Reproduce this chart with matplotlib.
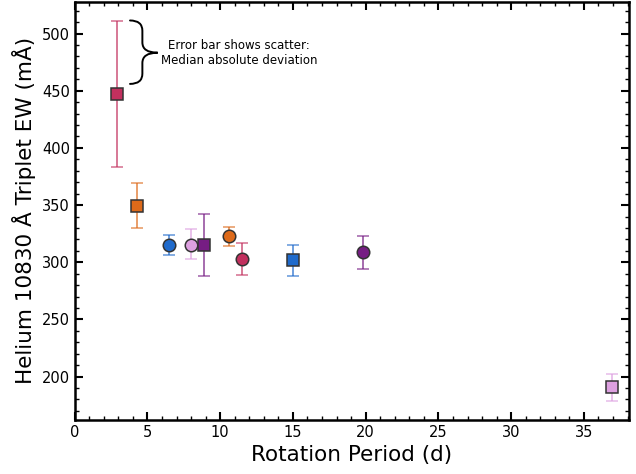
import numpy as np
import matplotlib
matplotlib.use('Agg')
import matplotlib.pyplot as plt
from matplotlib.ticker import MultipleLocator
from matplotlib.path import Path
from matplotlib.patches import PathPatch

# Rotation period (d) and He 10830 triplet EW (mA), with scatter range (MAD)
period = [2.9, 4.3, 6.5, 8.0, 8.9, 10.6, 11.5, 15.0, 19.8, 36.9]
ew = [447, 349, 315, 315, 315, 323, 303, 302, 309, 191]
ew_lo = [383, 330, 306, 303, 288, 314, 289, 288, 294, 179]
ew_hi = [511, 369, 324, 329, 342, 331, 317, 315, 323, 202]

# style per point
markers = ['s', 's', 'o', 'o', 's', 'o', 'o', 's', 'o', 's']
colors = ['#C2305E', '#DD6A1A', '#1F6ACB', '#DDA0E0', '#761D83',
          '#DD6A1A', '#C2305E', '#1F6ACB', '#761D83', '#DDA0E0']

fig = plt.figure(figsize=(6.36, 4.74), dpi=100)
ax = fig.add_axes([0.1175, 0.114, 0.8715, 0.8826])

for i in range(len(period)):
	yerr = [[ew[i] - ew_lo[i]], [ew_hi[i] - ew[i]]]
	ax.errorbar(period[i], ew[i], yerr=yerr, fmt=markers[i], color=colors[i],
				ecolor=colors[i], elinewidth=1.3, capsize=4, capthick=1.3,
				markersize=9, markeredgecolor='#333333', markeredgewidth=1.1,
				zorder=3 + i)
	# lighten the error bar lines a bit
	for child in ax.containers[-1].lines[1] + ax.containers[-1].lines[2]:
		child.set_alpha(0.7)

# annotation: curly brace next to the first error bar, then the note
x0, xm, xt = 3.8, 4.65, 5.7
yt, yc, yb, r = 511.5, 483.3, 456.0, 9.0
verts = [(x0, yt), (xm, yt), (xm, yt - r),
		 (xm, yc + r),
		 (xm, yc), (xt, yc),
		 (xm, yc), (xm, yc - r),
		 (xm, yb + r),
		 (xm, yb), (x0, yb)]
codes = [Path.MOVETO, Path.CURVE3, Path.CURVE3,
		 Path.LINETO,
		 Path.CURVE3, Path.CURVE3,
		 Path.CURVE3, Path.CURVE3,
		 Path.LINETO,
		 Path.CURVE3, Path.CURVE3]
ax.add_patch(PathPatch(Path(verts, codes), facecolor='none', edgecolor='black',
					   linewidth=1.4, capstyle='round'))
ax.text(11.3, 483, 'Error bar shows scatter:\nMedian absolute deviation',
		fontsize=8.5, ha='center', va='center', linespacing=1.25)

ax.set_xlim(0, 38.1)
ax.set_ylim(162, 528)
ax.xaxis.set_major_locator(MultipleLocator(5))
ax.xaxis.set_minor_locator(MultipleLocator(1))
ax.yaxis.set_major_locator(MultipleLocator(50))
ax.yaxis.set_minor_locator(MultipleLocator(10))
ax.tick_params(which='both', direction='in', top=True, right=True, labelsize=10.5)
ax.tick_params(which='major', length=6, width=1.5)
ax.tick_params(which='minor', length=3, width=1)
for s in ax.spines.values():
	s.set_linewidth(1.8)

ax.set_xlabel('Rotation Period (d)', fontsize=15.5)
ax.set_ylabel('Helium 10830 Å Triplet EW (mÅ)', fontsize=15.5)

fig.savefig('out.png', dpi=100)
